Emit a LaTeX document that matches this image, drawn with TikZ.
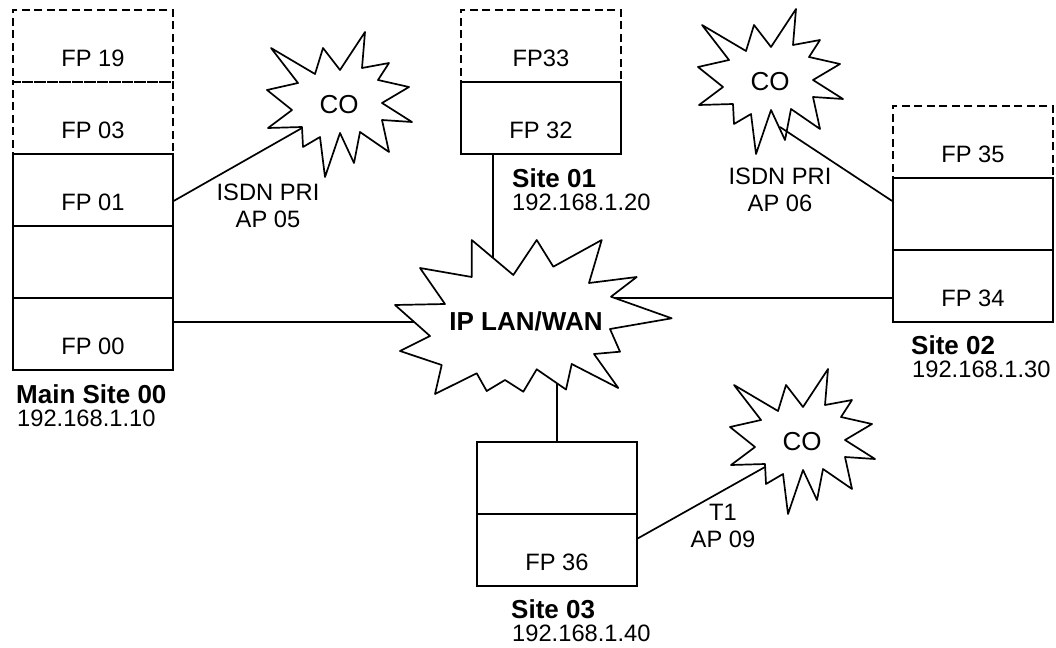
\documentclass[tikz,border=0pt]{standalone}
\usepackage{fontspec}
\setmainfont{Liberation Sans}
\pgfdeclarelayer{background}
\pgfsetlayers{background,main}
\begin{document}
\begin{tikzpicture}[x=1pt,y=-1pt,
  fp/.style={draw, line width=1.8pt, minimum width=160pt, minimum height=72pt, inner sep=0pt, anchor=north west},
  fpdash/.style={fp, dash pattern=on 8pt off 4.5pt},
  txt/.style={font=\fontsize{23.7}{27}\selectfont, inner sep=0pt},
  btxt/.style={font=\bfseries\fontsize{26}{30}\selectfont, inner sep=0pt},
  lbl/.style={txt, align=center},
  cotxt/.style={font=\fontsize{26}{30}\selectfont, inner sep=0pt},
  conn/.style={line width=1.7pt},
  burst/.style={draw, fill=white, line width=1.7pt, line join=round},
  costar/.pic={\draw[burst] (-72,-15) -- (-41,-22) -- (-68,-57) -- (-24,-31) -- (-16,-57) -- (1,-35) -- (26,-73) -- (23,-37) -- (50,-42) -- (39,-25) -- (70,-18) -- (43,-2) -- (73,17) -- (43,15) -- (50,47) -- (21,27) -- (15,58) -- (1,28) -- (-14,72) -- (-19,32) -- (-36,42) -- (-37,22) -- (-71,23) -- (-47,5) -- cycle;}
]
\useasboundingbox (0,0) rectangle (1056,647);

% ---- Main Site 00 ----
\node[fpdash] (r19) at (12,9) {};
\node[fpdash] (r03) at (12,81) {};
\node[fp] (r01) at (12,153) {};
\node[fp] (rE) at (12,225) {};
\node[fp] (r00) at (12,297) {};
\node[txt] at ([yshift=-12pt]r19.center) {FP 19};
\node[txt] at ([yshift=-12pt]r03.center) {FP 03};
\node[txt] at ([yshift=-12pt]r01.center) {FP 01};
\node[txt] at ([yshift=-12pt]r00.center) {FP 00};
\node[btxt, anchor=base west] (n00) at (16,403) {Main Site 00};
\node[txt, anchor=base west] (a00) at (17,426) {192.168.1.10};

% ---- Site 01 ----
\node[fpdash] (s33) at (460,9) {};
\node[fp] (s32) at (460,81) {};
\node[txt] at ([yshift=-12pt]s33.center) {FP33};
\node[txt] at ([yshift=-12pt]s32.center) {FP 32};
\node[btxt, anchor=base west] (n01) at (512,187) {Site 01};
\node[txt, anchor=base west] (a01) at (512,210) {192.168.1.20};

% ---- Site 02 ----
\node[fpdash] (s35) at (892,105) {};
\node[fp] (s2E) at (892,177) {};
\node[fp] (s34) at (892,249) {};
\node[txt] at ([yshift=-12pt]s35.center) {FP 35};
\node[txt] at ([yshift=-12pt]s34.center) {FP 34};
\node[btxt, anchor=base west] (n02) at (911,354) {Site 02};
\node[txt, anchor=base west] (a02) at (912,377) {192.168.1.30};

% ---- Site 03 ----
\node[fp] (s3E) at (476,441) {};
\node[fp] (s36) at (476,513) {};
\node[txt] at ([yshift=-12pt]s36.center) {FP 36};
\node[btxt, anchor=base west] (n03) at (511,618) {Site 03};
\node[txt, anchor=base west] (a03) at (512,641) {192.168.1.40};

% ---- IP LAN/WAN cloud ----
\draw[burst] (395,305) -- (445,304) -- (420,268) -- (471.7,277) -- (471.7,240) -- (513.3,275) -- (536.7,240) -- (553.3,266.7) -- (601.7,240) -- (589,283) -- (636.7,277) -- (611,296.7) -- (671.7,318.3) -- (610,329) -- (620,351.7) -- (594,354) -- (618.3,388) -- (571.7,364) -- (566,389.5) -- (536.7,369.3) -- (523.3,391.7) -- (505,380) -- (486.7,391) -- (476.7,373.3) -- (435,394) -- (441.7,365) -- (400,351) -- (430,336) -- cycle;
\node[btxt] (lan) at (526,321) {IP LAN/WAN};

% ---- CO bursts ----
\pic at (339,105) {costar};
\node[cotxt] (co1) at (339,105) {CO};
\coordinate (co1in) at (302,128);
\pic at (770,82) {costar};
\node[cotxt] (co2) at (770,82) {CO};
\coordinate (co2in) at (780,127);
\pic at (802,442) {costar};
\node[cotxt] (co3) at (802,442) {CO};
\coordinate (co3in) at (765,467);

% ---- connectors ----
\begin{pgfonlayer}{background}
\draw[conn] ([yshift=12pt]r00.east) -- ([yshift=12pt]r00.east -| lan.center);
\draw[conn] ([xshift=-48pt]s32.south) -- ([xshift=-48pt]s32.south |- lan.center);
\draw[conn] ([yshift=-12pt]s34.west) -- ([yshift=-12pt]s34.west -| lan.center);
\draw[conn] (s3E.north) -- (s3E.north |- lan.center);
\draw[conn] ([yshift=-11pt]r01.east) -- (co1in);
\draw[conn] ([yshift=11.5pt]s36.east) -- (co3in);
\end{pgfonlayer}
\draw[conn] ([yshift=13pt]s2E.west) -- (co2in);

% ---- line labels ----
\node[lbl] (l05) at (268,205.5) {ISDN PRI\\AP 05};
\node[lbl] (l06) at (780,190) {ISDN PRI\\AP 06};
\node[lbl] (l09) at (723,525.5) {T1\\AP 09};
\end{tikzpicture}
\end{document}
